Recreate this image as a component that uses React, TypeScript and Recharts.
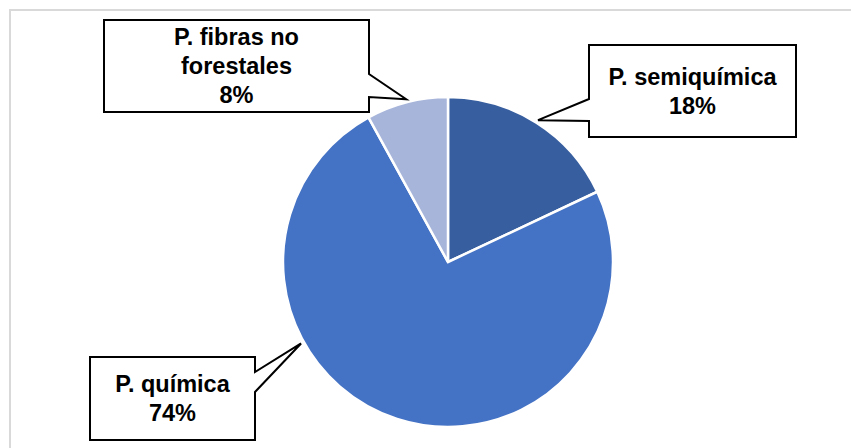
import { PieChart, Pie, Cell } from "recharts";

const categories = ["P. semiquímica", "P. química", "P. fibras no forestales"];
const values = [18, 74, 8];
const colors = ["#375E9F", "#4472C4", "#A7B5DB"];

// manual callout placement, relative to the pie centre (like Excel's dragged labels)
const callouts = [
  { lines: ["P. semiquímica"], dx: 141, dy: -217, w: 207, h: 92, side: "left", w1: -163, w2: -141, tipAngle: null },
  { lines: ["P. química"], dx: -358, dy: 95, w: 165, h: 83, side: "right", w1: 110, w2: 130, tipAngle: 209 },
  { lines: ["P. fibras no", "forestales"], dx: -344, dy: -242, w: 265, h: 92, side: "right", w1: -188, w2: -165, tipAngle: null },
];

const data = categories.map((name, i) => ({ name, value: values[i] }));
const RADIAN = Math.PI / 180;
const FONT = 23.5;
const LINE = 29;

const renderCallout = (props: any) => {
  const { cx, cy, midAngle, outerRadius, percent, index } = props;
  const c = callouts[index];
  const ang = c.tipAngle ?? midAngle;
  const r = outerRadius + 3;
  const tx = cx + r * Math.cos(ang * RADIAN);
  const ty = cy - r * Math.sin(ang * RADIAN);
  const x = cx + c.dx;
  const y = cy + c.dy;
  const a = cy + c.w1;
  const b = cy + c.w2;
  const d =
    c.side === "left"
      ? `M${x},${y} H${x + c.w} V${y + c.h} H${x} V${b} L${tx},${ty} L${x},${a} Z`
      : `M${x},${y} H${x + c.w} V${a} L${tx},${ty} L${x + c.w},${b} V${y + c.h} H${x} Z`;
  const lines = [...c.lines, `${Math.round(percent * 100)}%`];
  const capH = FONT * 0.716;
  const block = capH + LINE * (lines.length - 1);
  const firstBase = y + c.h / 2 - block / 2 + capH;
  return (
    <g key={`callout-${index}`}>
      <path d={d} fill="#fff" stroke="#000" strokeWidth={2} strokeLinejoin="miter" />
      {lines.map((t, i) => (
        <text
          key={i}
          x={x + c.w / 2}
          y={firstBase + i * LINE}
          textAnchor="middle"
          fontFamily="'Liberation Sans', Arial, sans-serif"
          fontWeight="bold"
          fontSize={FONT}
          fill="#000"
        >
          {t}
        </text>
      ))}
    </g>
  );
};

const App = () => {
  return (
    <div style={{ position: "absolute", left: 0, top: 0, width: 851, height: 448, background: "#fff", overflow: "hidden" }}>
      <div
        style={{
          position: "absolute",
          left: 9,
          top: 9,
          width: 900,
          height: 500,
          borderLeft: "2px solid #D9D9D9",
          borderTop: "2px solid #D9D9D9",
        }}
      />
      <div style={{ position: "absolute", left: 0, top: 0 }}>
        <PieChart width={851} height={448} margin={{ top: 0, right: 0, bottom: 0, left: 0 }}>
          <Pie
            data={data}
            dataKey="value"
            nameKey="name"
            cx={448}
            cy={262}
            outerRadius={165}
            startAngle={90}
            endAngle={-270}
            stroke="#fff"
            strokeWidth={2.5}
            label={renderCallout}
            labelLine={false}
            isAnimationActive={false}
          >
            {data.map((d, i) => (
              <Cell key={d.name} fill={colors[i]} />
            ))}
          </Pie>
        </PieChart>
      </div>
    </div>
  );
};

export default App;
